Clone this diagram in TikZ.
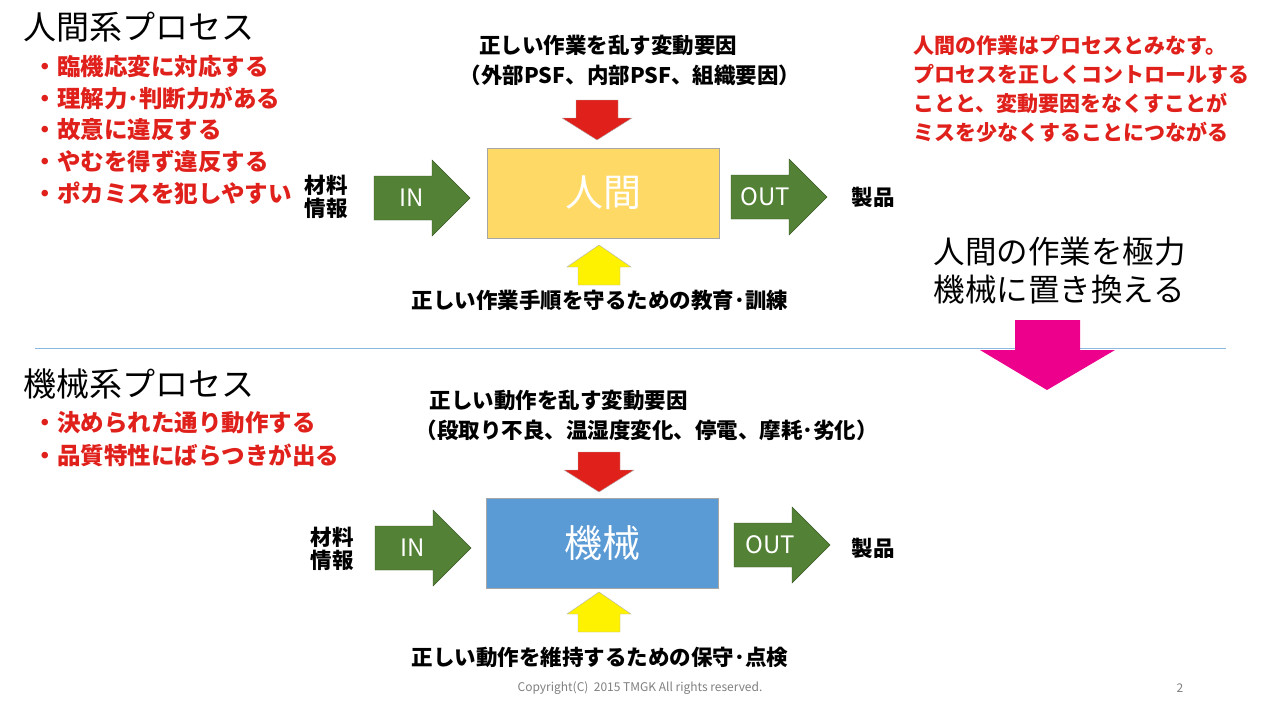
\documentclass[tikz,border=0pt]{standalone}
\usepackage{fontspec}
\setmainfont{Noto Sans CJK JP}
\definecolor{myred}{HTML}{E0201B}
\definecolor{mygreen}{HTML}{538135}
\definecolor{myorange}{HTML}{FFD966}
\definecolor{myblue}{HTML}{5B9BD5}
\tikzset{
 title/.style={anchor=west,font=\fontsize{33}{35}\selectfont},
 bullet/.style={anchor=west,text=myred,font=\fontsize{23.5}{25}\selectfont\bfseries},
 lbl/.style={font=\fontsize{21.5}{23}\selectfont\bfseries},
 redtxt/.style={anchor=west,text=myred,font=\fontsize{21}{22}\selectfont\bfseries},
 proc/.style={draw=gray!70,minimum width=232pt,minimum height=90pt,text=white,font=\fontsize{38}{40}\selectfont},
 gfill/.style={fill=mygreen,draw=mygreen!70!black},
 atxt/.style={text=white,font=\fontsize{24}{26}\selectfont,anchor=west},
 vfill/.style={draw=gray!60},
 harrow/.pic={\path[gfill] (-48,-22) -- (10,-22) -- (10,-38) -- (48,0) -- (10,38) -- (10,22) -- (-48,22) -- cycle;},
 darrow/.pic={\path[vfill,fill=myred] (-21,-20) -- (21,-20) -- (21,-2) -- (35,-2) -- (0,20) -- (-35,-2) -- (-21,-2) -- cycle;},
 uarrow/.pic={\path[vfill,fill=yellow] (-21,20) -- (21,20) -- (21,2) -- (32,2) -- (0,-20) -- (-32,2) -- (-21,2) -- cycle;},
}
\begin{document}
\begin{tikzpicture}[x=1pt,y=-1pt]
\useasboundingbox (0,0) rectangle (1280,720);
\fill[white] (0,0) rectangle (1280,720);
% upper
\node[title] (t1) at (20,27) {人間系プロセス};
\foreach \t [count=\i] in {・臨機応変に対応する,・理解力･判断力がある,・故意に違反する,・やむを得ず違反する,・ポカミスを犯しやすい}
  \node[bullet] (b\i) at (30,35.5+31.5*\i) {\t};
\node[lbl] (v1a) at (608,45) {正しい作業を乱す変動要因};
\node[lbl] (v1b) at (630,75) {（外部PSF、内部PSF、組織要因）};
\node[proc,fill=myorange] (h) at (603,193) {人間};
\pic at (597,120) {darrow};
\pic at (422,198) {harrow};
\node[atxt] (in1) at (396,198) {IN};
\pic at (779,197) {harrow};
\node[atxt] (out1) at (737,197) {OUT};
\node[lbl,align=center,inner sep=0pt] (m1) at (326,197) {材料\\情報};
\node[lbl] (p1) at (873,197) {製品};
\pic at (599,265) {uarrow};
\node[lbl] (e1) at (600,300) {正しい作業手順を守るための教育･訓練};
\foreach \t [count=\i] in {人間の作業はプロセスとみなす。,プロセスを正しくコントロールする,ことと、変動要因をなくすことが,ミスを少なくすることにつながる}
  \node[redtxt] (n\i) at (910,16+29*\i) {\t};
\node[anchor=west,font=\fontsize{31.5}{33}\selectfont] (k1) at (930,252) {人間の作業を極力};
\node[anchor=west,font=\fontsize{31.5}{33}\selectfont] (k2) at (930,290) {機械に置き換える};
\draw[myblue!70] (35,348) -- (1226,348);
\fill[magenta] (1015,320) -- (1080,320) -- (1080,350) -- (1115,350) -- (1047,390) -- (980,350) -- (1015,350) -- cycle;
% lower
\node[title] (t2) at (20,384) {機械系プロセス};
\node[bullet] (c1) at (30,423) {・決められた通り動作する};
\node[bullet] (c2) at (30,455) {・品質特性にばらつきが出る};
\node[lbl,anchor=west] (v2a) at (426,400) {正しい動作を乱す変動要因};
\node[lbl,anchor=west] (v2b) at (412,430) {（段取り不良、温湿度変化、停電、摩耗･劣化）};
\pic at (599,472) {darrow};
\node[proc,fill=myblue] (m) at (602,543) {機械};
\pic at (423,548) {harrow};
\node[atxt] (in2) at (397,548) {IN};
\pic at (782,545) {harrow};
\node[atxt] (out2) at (742,545) {OUT};
\node[lbl,align=center,inner sep=0pt] (m2) at (332,549) {材料\\情報};
\node[lbl] (p2) at (873,548) {製品};
\pic at (599,612) {uarrow};
\node[lbl] (e2) at (600,657) {正しい動作を維持するための保守･点検};
\node[text=gray,font=\fontsize{12}{14}\selectfont] (cp) at (640,688) {Copyright(C)\ \ 2015 TMGK All rights reserved.};
\node[text=gray,font=\fontsize{12}{14}\selectfont] (pg) at (1180,688) {2};
\end{tikzpicture}
\end{document}
